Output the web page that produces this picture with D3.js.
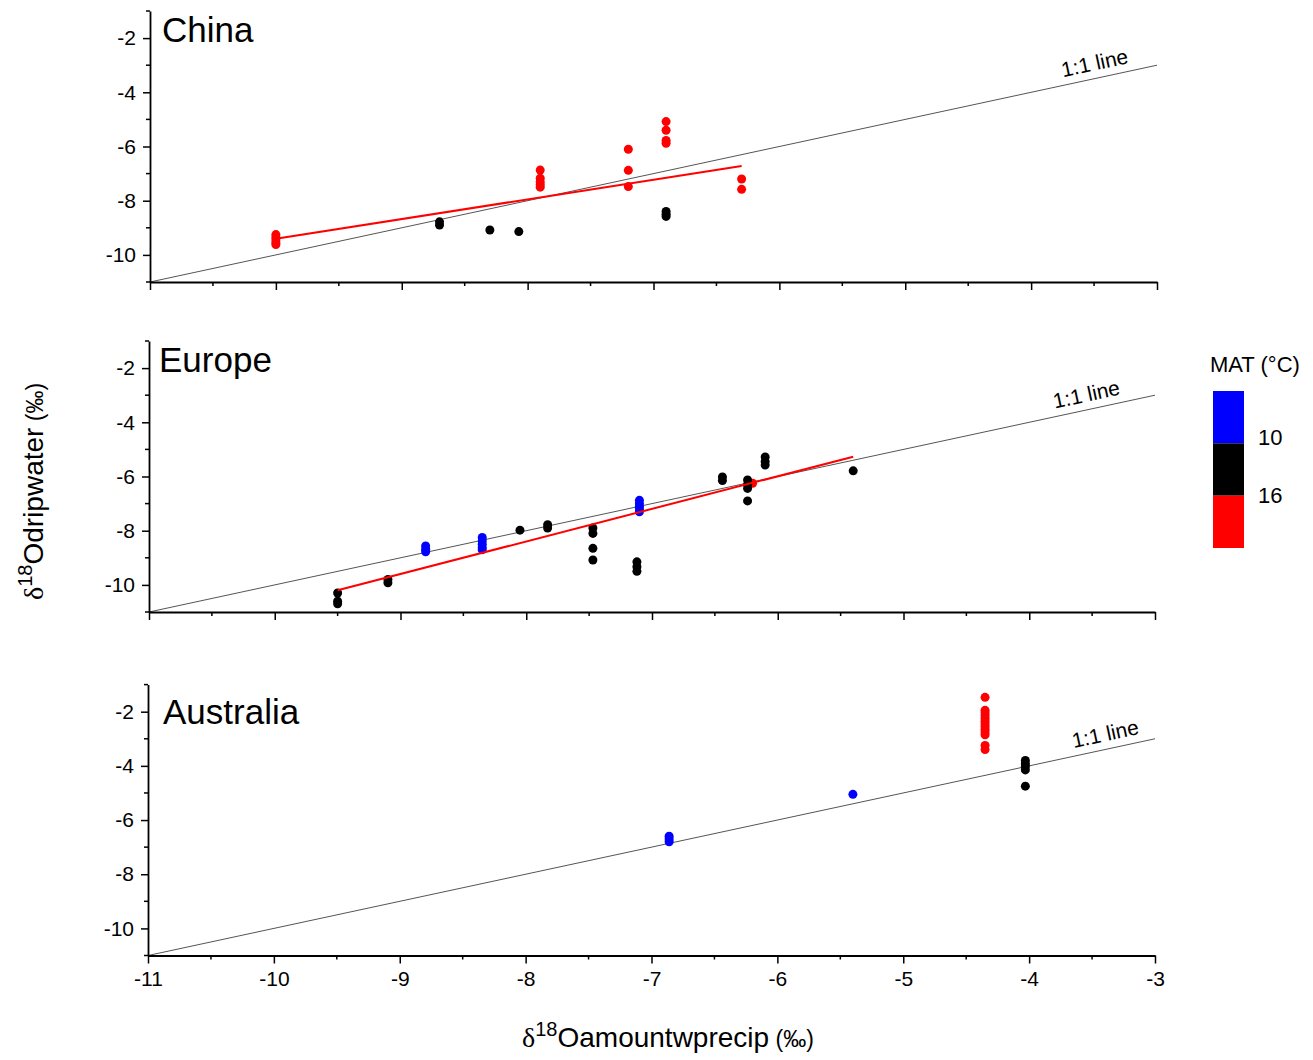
<!DOCTYPE html>
<html><head><meta charset="utf-8">
<script src="https://cdn.jsdelivr.net/npm/d3@7"></script>
<style>
body{margin:0;background:#fff}
svg{display:block}
text{font-family:"Liberation Sans",Arial,sans-serif;fill:#000}
</style>
</head><body>
<svg id="chart" width="1313" height="1060"></svg>
<script>
// ---------------- DATA ----------------
const panelNames = ["China", "Europe", "Australia"];
const xDomain = [-11, -3];
const yDomain = [-11, -1];
const xMajorTicks = [-11, -10, -9, -8, -7, -6, -5, -4, -3];
const xMinorTicks = [-10.5, -9.5, -8.5, -7.5, -6.5, -5.5, -4.5, -3.5];
const yMajorTicks = [-10, -8, -6, -4, -2];
const yMinorTicks = [-11, -9, -7, -5, -3, -1];

const matClasses = ["<10", "10-16", ">16"];
const matColors = ["#0000ff", "#000000", "#ff0000"];
const matBreakLabels = ["10", "16"];
const legendTitle = "MAT (°C)";
const oneToOneLabel = "1:1 line";
const oneToOneLine = [[-11, -11], [-3, -3]];

// sites: precip δ18O (x), MAT class index, dripwater δ18O values (y)
const chinaSites = [
  {x: -10.0, mat: 2, y: [-9.25, -9.35, -9.45, -9.55, -9.62]},
  {x: -7.9,  mat: 2, y: [-6.87, -7.17, -7.3, -7.4, -7.5]},
  {x: -7.2,  mat: 2, y: [-6.1, -6.88, -7.48]},
  {x: -6.9,  mat: 2, y: [-5.08, -5.4, -5.78, -5.88]},
  {x: -6.3,  mat: 2, y: [-7.2, -7.58]},
  {x: -8.7,  mat: 1, y: [-8.78, -8.9]},
  {x: -8.3,  mat: 1, y: [-9.08]},
  {x: -8.07, mat: 1, y: [-9.14]},
  {x: -6.9,  mat: 1, y: [-8.4, -8.5, -8.58]}
];
const europeSites = [
  {x: -6.2,  mat: 2, y: [-6.25]},
  {x: -9.5,  mat: 1, y: [-10.3, -10.6, -10.7]},
  {x: -9.1,  mat: 1, y: [-9.8, -9.92]},
  {x: -8.8,  mat: 0, y: [-8.56, -8.68, -8.78]},
  {x: -8.35, mat: 0, y: [-8.25, -8.38, -8.5, -8.62, -8.7]},
  {x: -8.05, mat: 1, y: [-7.98]},
  {x: -7.83, mat: 1, y: [-7.78, -7.9]},
  {x: -7.47, mat: 1, y: [-7.9, -8.1, -8.65, -9.08]},
  {x: -7.1,  mat: 0, y: [-6.88, -7.0, -7.1, -7.2, -7.3]},
  {x: -7.12, mat: 1, y: [-9.15, -9.33, -9.5]},
  {x: -6.44, mat: 1, y: [-6.02, -6.15]},
  {x: -6.24, mat: 1, y: [-6.13, -6.3, -6.44, -6.9]},
  {x: -6.1,  mat: 1, y: [-5.28, -5.45, -5.58]},
  {x: -5.4,  mat: 1, y: [-5.79]}
];
const australiaSites = [
  {x: -6.86, mat: 0, y: [-6.6, -6.7, -6.8]},
  {x: -5.4,  mat: 0, y: [-5.05]},
  {x: -4.35, mat: 2, y: [-1.47, -1.95, -2.05, -2.15, -2.25, -2.35, -2.45, -2.55, -2.65, -2.75, -2.85, -3.25, -3.4]},
  {x: -4.03, mat: 1, y: [-3.8, -3.92, -4.02, -4.15, -4.75]}
];
// red regression lines (null = none)
const chinaFit = [[-10.0, -9.4], [-6.3, -6.72]];
const europeFit = [[-9.5, -10.2], [-5.4, -5.27]];
const australiaFit = null;

const panelSites = [chinaSites, europeSites, australiaSites];
const panelFits = [chinaFit, europeFit, australiaFit];
const oneToOneLabelX = [-3.47, -3.52, -3.37];

// ---------------- LAYOUT ----------------
const layout = [
  {x0: 150, x1: 1157, top: 11, bottom: 282, titleX: 162, titleDy: 31},
  {x0: 149, x1: 1155, top: 341, bottom: 612, titleX: 159, titleDy: 31},
  {x0: 148, x1: 1155, top: 684.6, bottom: 955.5, titleX: 163, titleDy: 39.5}
];
const FONT = '"Liberation Sans",Arial,sans-serif';

const svg = d3.select("#chart");

panelNames.forEach((name, i) => {
  const L = layout[i];
  const x = d3.scaleLinear().domain(xDomain).range([L.x0, L.x1]);
  const y = d3.scaleLinear().domain(yDomain).range([L.bottom, L.top]);
  const g = svg.append("g");

  // 1:1 line
  g.append("line")
    .attr("x1", x(oneToOneLine[0][0])).attr("y1", y(oneToOneLine[0][1]))
    .attr("x2", x(oneToOneLine[1][0])).attr("y2", y(oneToOneLine[1][1]))
    .attr("stroke", "#555").attr("stroke-width", 1);

  // 1:1 label
  const ang = -Math.atan((y(-11) - y(-10)) / (x(-10) - x(-11))) * 180 / Math.PI;
  const lx = oneToOneLabelX[i];
  g.append("text")
    .attr("transform", `translate(${x(lx)},${y(lx)}) rotate(${ang}) translate(0,-8)`)
    .attr("text-anchor", "middle")
    .style("font-size", "21px")
    .text(oneToOneLabel);

  // points
  const pts = [];
  panelSites[i].forEach(s => s.y.forEach(v => pts.push({x: s.x, y: v, mat: s.mat})));
  g.selectAll("circle.pt").data(pts).enter().append("circle")
    .attr("class", "pt")
    .attr("cx", d => x(d.x)).attr("cy", d => y(d.y))
    .attr("r", 4.5)
    .attr("fill", d => matColors[d.mat]);

  // fit line
  const fit = panelFits[i];
  if (fit) {
    g.append("path")
      .attr("d", d3.line().x(d => x(d[0])).y(d => y(d[1]))(fit))
      .attr("stroke", "#ff0000").attr("stroke-width", 2).attr("fill", "none");
  }

  // axes
  const xAxis = g.append("g").attr("transform", `translate(0,${L.bottom})`);
  xAxis.call(d3.axisBottom(x).tickValues(xMajorTicks).tickSize(8).tickPadding(8)
      .tickFormat(d => String(d)).tickSizeOuter(0));
  xAxis.append("g").selectAll("line").data(xMinorTicks).enter().append("line")
    .attr("x1", d => x(d)).attr("x2", d => x(d)).attr("y1", 0).attr("y2", 4)
    .attr("stroke", "#000").attr("stroke-width", 1.5);
  xAxis.select(".domain").attr("stroke-width", 1.8);
  xAxis.selectAll(".tick line").attr("stroke-width", 1.5);
  xAxis.selectAll(".tick text").style("font-size", "21px").style("font-family", FONT);
  if (i !== 2) xAxis.selectAll(".tick text").remove();

  const yAxis = g.append("g").attr("transform", `translate(${L.x0},0)`);
  yAxis.call(d3.axisLeft(y).tickValues(yMajorTicks).tickSize(7).tickPadding(7)
      .tickFormat(d => String(d)).tickSizeOuter(0));
  yAxis.append("g").selectAll("line").data(yMinorTicks).enter().append("line")
    .attr("y1", d => y(d)).attr("y2", d => y(d)).attr("x1", 0).attr("x2", -4)
    .attr("stroke", "#000").attr("stroke-width", 1.5);
  yAxis.select(".domain").attr("stroke-width", 1.8);
  yAxis.selectAll(".tick line").attr("stroke-width", 1.5);
  yAxis.selectAll(".tick text").style("font-size", "21px").style("font-family", FONT);

  // panel title
  g.append("text")
    .attr("x", L.titleX).attr("y", L.top + L.titleDy)
    .style("font-size", "35px")
    .text(name);
});

// ---------------- AXIS TITLES ----------------
function axisTitle(sel, sub) {
  sel.append("tspan").style("font-family", '"Liberation Serif","DejaVu Serif",serif').text("δ");
  sel.append("tspan").attr("dy", -11).style("font-size", "20px").text("18");
  sel.append("tspan").attr("dy", 11).text("O" + sub);
  sel.append("tspan").style("font-size", "23px").text(" (‰)");
}
const xt = svg.append("text").attr("x", 522).attr("y", 1047).style("font-size", "28px");
axisTitle(xt, "amountwprecip");

const yt = svg.append("text").attr("transform", "translate(43,600) rotate(-90)").style("font-size", "28px");
axisTitle(yt, "dripwater");

// ---------------- LEGEND ----------------
const legY = d3.scaleBand().domain(matClasses).range([391, 548]);
const leg = svg.append("g");
leg.append("text").attr("x", 1210).attr("y", 372).style("font-size", "22px").text(legendTitle);
leg.selectAll("rect").data(matClasses).enter().append("rect")
  .attr("x", 1213).attr("width", 31)
  .attr("y", d => legY(d)).attr("height", legY.bandwidth())
  .attr("fill", (d, k) => matColors[k]);
leg.selectAll("text.brk").data(matBreakLabels).enter().append("text")
  .attr("class", "brk")
  .attr("x", 1258)
  .attr("y", (d, k) => legY(matClasses[k]) + legY.bandwidth() + 2 + k * 5)
  .style("font-size", "22px")
  .text(d => d);
</script>
</body></html>
